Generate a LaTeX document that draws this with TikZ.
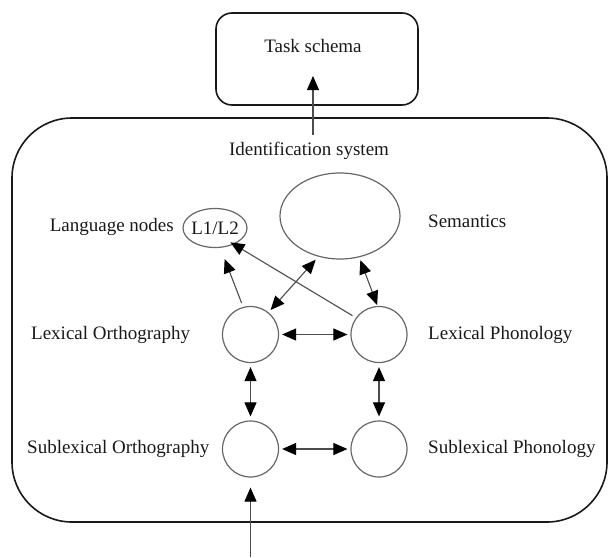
\documentclass[tikz,border=0pt]{standalone}
\usepackage{fontspec}
\setmainfont{Liberation Serif}
\usetikzlibrary{arrows.meta,shapes.geometric}
\begin{document}
\begin{tikzpicture}[x=1pt,y=-1pt,
  lbl/.style={font=\fontsize{19}{22}\selectfont, text=black!90, inner sep=0pt},
  frame/.style={draw=black!90, line width=1.6pt, inner sep=0pt},
  unit/.style={circle, draw=black!60, line width=1.2pt, minimum size=56pt, inner sep=0pt},
  oval/.style={ellipse, draw=black!60, line width=1.2pt, inner sep=0pt},
  link/.style={draw=black!70, line width=1.1pt},
  tipa/.tip={Triangle[length=14pt,width=12pt,color=black]},
  bi/.style={link, tipa-tipa},
  uni/.style={link, -tipa}
]
\useasboundingbox (0,0) rectangle (610,557);
% frames
\node[frame, rounded corners=16pt, minimum width=202pt, minimum height=92pt] (task) at (317,59) {};
\node[lbl] (tasklbl) at (313,46) {Task schema};
\node[frame, rounded corners=60pt, minimum width=595pt, minimum height=404pt] (sys) at (309.5,320) {};
\node[lbl] (idlbl) at (309,151) {Identification system};
\coordinate (idtop) at (313,135);
\coordinate (taskin) at (313,76);
\draw[uni] (idtop) -- (taskin);
% nodes
\node[oval, minimum width=64pt, minimum height=39pt] (l12) at (215,228) {};
\node[lbl] at (l12) {L1/L2};
\node[oval, minimum width=120pt, minimum height=86pt] (sem) at (340,216) {};
\node[unit] (lo) at (250.5,334.5) {};
\node[unit] (lp) at (379,334.5) {};
\node[unit] (so) at (250.5,449) {};
\node[unit] (sp) at (379,449) {};
% labels
\node[lbl, anchor=east] (langlbl) at (174,227) {Language nodes};
\node[lbl, anchor=west] (semlbl) at (428,221) {Semantics};
\node[lbl, anchor=west] (lolbl) at (31,334.5) {Lexical Orthography};
\node[lbl, anchor=west] (lplbl) at (428,334.5) {Lexical Phonology};
\node[lbl, anchor=west] (solbl) at (27,449) {Sublexical Orthography};
\node[lbl, anchor=west] (splbl) at (428,449) {Sublexical Phonology};
% connectors
\draw[uni, shorten <=4pt, shorten >=12pt] (lo.105) -- (l12.-75);
\draw[uni, shorten <=4pt, shorten >=-4pt] (lp.144) -- (l12.-41);
\draw[bi, shorten <=4pt, shorten >=3pt] (sem.-118) -- (lo.51);
\draw[bi, shorten <=3pt, shorten >=1pt] (sem.-65) -- (lp.93);
\draw[bi, shorten <=3pt, shorten >=3pt] (lo) -- (lp);
\draw[bi, shorten <=3pt, shorten >=3pt] (so) -- (sp);
\draw[bi, shorten <=4pt, shorten >=4pt] (lo) -- (so);
\draw[bi, shorten <=4pt, shorten >=4pt] (lp) -- (sp);
\coordinate (input) at (250.5,557);
\draw[uni, shorten >=10pt] (input) -- (so);
\end{tikzpicture}
\end{document}
